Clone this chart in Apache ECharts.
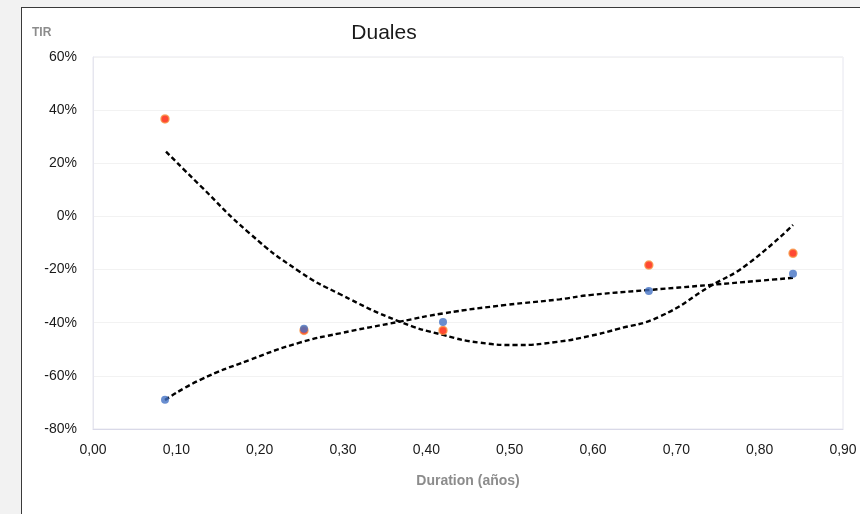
<!DOCTYPE html>
<html>
<head>
<meta charset="utf-8">
<script src="https://cdn.jsdelivr.net/npm/echarts@6/dist/echarts.min.js"></script>
<style>
html,body{margin:0;padding:0;background:#f2f2f2;}
#frame{position:absolute;left:21px;top:7px;width:900px;height:600px;background:#fff;border:1.5px solid #3a3a3a;}
#chart{position:absolute;left:0;top:0;width:860px;height:514px;}
</style>
</head>
<body>
<div id="frame"></div>
<div id="chart"></div>
<script>
// Scatter data (duration in years, TIR in %)
const durationX = [0.0864, 0.2532, 0.42, 0.667, 0.84];
const serieRoja = [36.7, -42.9, -42.9, -18.3, -13.9];
const serieAzul = [-69.0, -42.3, -39.7, -28.1, -21.6];

// Trendline points
const tendRojaX = [0.0876, 0.128, 0.188, 0.248, 0.296, 0.368, 0.42, 0.464, 0.509, 0.557, 0.596, 0.628, 0.68, 0.74, 0.784, 0.84];
const tendRojaY = [24.4, 11.8, -6.4, -20.8, -29.2, -39.6, -44.6, -47.5, -48.4, -47.2, -45.0, -42.5, -37.7, -26.4, -18.3, -3.2];
const tendAzulX = [0.0864, 0.128, 0.188, 0.248, 0.296, 0.368, 0.42, 0.496, 0.56, 0.596, 0.667, 0.74, 0.80, 0.84];
const tendAzulY = [-69.1, -61.6, -54.0, -47.5, -44.0, -39.6, -36.5, -33.3, -31.2, -29.6, -27.7, -25.8, -24.2, -23.1];

const xTicks = [0, 0.1, 0.2, 0.3, 0.4, 0.5, 0.6, 0.7, 0.8, 0.9];
const yTicks = [-80, -60, -40, -20, 0, 20, 40, 60];

const zip = (a, b) => a.map((v, i) => [v, b[i]]);

const chart = echarts.init(document.getElementById('chart'));
const dashed = {color: '#000', width: 2.4, type: [5, 3]};
chart.setOption({
  backgroundColor: 'transparent',
  animation: false,
  title: {
    text: 'Duales', left: 379, top: 18, textAlign: 'center',
    textStyle: {fontFamily: 'Liberation Sans', fontSize: 21, fontWeight: 'normal', color: '#1a1a1a'}
  },
  grid: {left: 93, right: 17, top: 57, bottom: 85, show: true, borderColor: '#e6e6ef', borderWidth: 1},
  xAxis: {
    type: 'value', min: 0, max: 0.9, interval: 0.1,
    name: 'Duration (años)', nameLocation: 'middle', nameGap: 45,
    nameTextStyle: {fontFamily: 'Liberation Sans', fontSize: 14, fontWeight: 'bold', color: '#8c8c8c'},
    axisLine: {show: true, onZero: false, lineStyle: {color: '#d9d9e8'}},
    axisTick: {show: false},
    splitLine: {show: false},
    axisLabel: {fontFamily: 'Liberation Sans', fontSize: 14, color: '#1a1a1a', margin: 14,
      formatter: v => v.toFixed(2).replace('.', ',')}
  },
  yAxis: {
    type: 'value', min: -80, max: 60, interval: 20,
    name: 'TIR', nameLocation: 'end', nameGap: 0,
    nameTextStyle: {fontFamily: 'Liberation Sans', fontSize: 12, fontWeight: 'bold', color: '#8c8c8c',
      align: 'left', padding: [0, 0, 18, -61]},
    axisLine: {show: true, onZero: false, lineStyle: {color: '#e6e6ef'}},
    axisTick: {show: false},
    splitLine: {show: true, lineStyle: {color: '#f2f2f2'}},
    axisLabel: {fontFamily: 'Liberation Sans', fontSize: 14, color: '#1a1a1a', margin: 16,
      formatter: v => v + '%'}
  },
  series: [
    {type: 'line', data: zip(tendRojaX, tendRojaY), smooth: true, symbol: 'none', lineStyle: dashed, z: 2},
    {type: 'line', data: zip(tendAzulX, tendAzulY), smooth: true, symbol: 'none', lineStyle: dashed, z: 2},
    {type: 'scatter', data: zip(durationX, serieRoja), symbolSize: 8,
      itemStyle: {color: '#ff1a00', borderColor: '#f79646', borderWidth: 1.5}, z: 3},
    {type: 'scatter', data: zip(durationX, serieAzul), symbolSize: 8,
      itemStyle: {color: '#4472c4', borderColor: '#4472c4', borderWidth: 0}, z: 4}
  ]
});
</script>
</body>
</html>
